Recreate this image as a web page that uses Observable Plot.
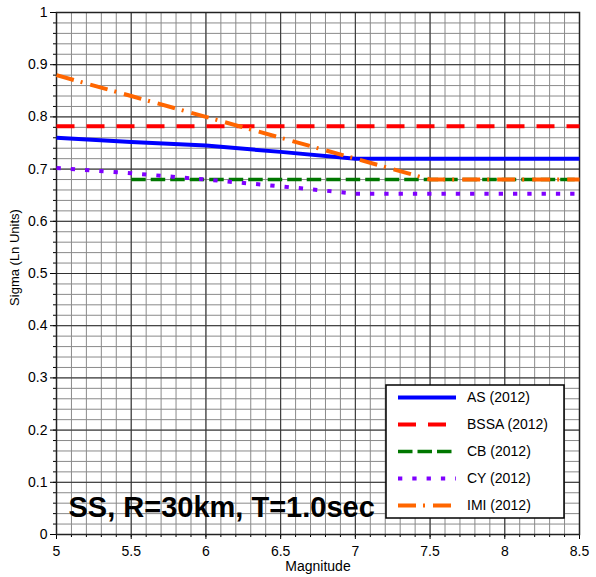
<!DOCTYPE html>
<html><head><meta charset="utf-8">
<script src="https://cdn.jsdelivr.net/npm/d3@7"></script>
<script src="https://cdn.jsdelivr.net/npm/@observablehq/plot@0.6"></script>
<style>body{margin:0;background:#fff}</style>
</head><body><div id="chart"></div>
<script>
// ---- data ----
const magnitudes = [5, 5.5, 6, 6.5, 7, 7.5, 8, 8.5];
const sigmaAS   = [0.760, 0.752, 0.745, 0.733, 0.720, 0.720, 0.720, 0.720];
const sigmaBSSA = [0.782, 0.782, 0.782, 0.782, 0.782, 0.782, 0.782, 0.782];
const sigmaCB   = [null, 0.680, 0.680, 0.680, 0.680, 0.680, 0.680, 0.680];
const sigmaCY   = [0.702, 0.692, 0.680, 0.667, 0.653, 0.653, 0.653, 0.653];
const sigmaIMI  = [0.880, 0.840, 0.800, 0.760, 0.720, 0.680, 0.680, 0.680];
const seriesNames = ["AS (2012)", "BSSA (2012)", "CB (2012)", "CY (2012)", "IMI (2012)"];
const seriesValues = [sigmaAS, sigmaBSSA, sigmaCB, sigmaCY, sigmaIMI];
const xMajorTicks = [5, 5.5, 6, 6.5, 7, 7.5, 8, 8.5];
const yMajorTicks = [0, 0.1, 0.2, 0.3, 0.4, 0.5, 0.6, 0.7, 0.8, 0.9, 1];
const xLabel = "Magnitude";
const yLabel = "Sigma (Ln Units)";
const annotation = "SS, R=30km, T=1.0sec";

// ---- styles ----
const seriesColors = ["#0000ff", "#ff0000", "#007700", "#7f00ff", "#ff6600"];
const seriesDash = [null, "18,12", "14.5,5", "4.3,10", "18,7,2,8"];
const seriesWidth = [4, 4, 3.5, 4, 4];

const xMinorTicks = d3.ticks(5, 8.5, 35);
const yMinorTicks = d3.ticks(0, 1, 50);

const seriesData = seriesNames.map((name, i) =>
  magnitudes.map((m, j) => ({series: name, x: m, y: seriesValues[i][j]})));

const font = "'Liberation Sans', Arial, Helvetica, sans-serif";
const fmt = d => String(d);

const plot = Plot.plot({
  width: 596,
  height: 577,
  marginLeft: 56,
  marginRight: 17,
  marginTop: 12,
  marginBottom: 43,
  style: {fontFamily: font, fontSize: "14px", background: "white", color: "black"},
  x: {domain: [5, 8.5]},
  y: {domain: [0, 1]},
  marks: [
    Plot.gridX(xMinorTicks, {stroke: "#8a8a8a", strokeOpacity: 1, strokeWidth: 1}),
    Plot.gridY(yMinorTicks, {stroke: "#8a8a8a", strokeOpacity: 1, strokeWidth: 1}),
    Plot.gridX(xMajorTicks, {stroke: "#333", strokeOpacity: 1, strokeWidth: 1}),
    Plot.gridY(yMajorTicks, {stroke: "#333", strokeOpacity: 1, strokeWidth: 1}),
    Plot.axisX(xMinorTicks, {tickSize: 3, tickFormat: () => "", label: null}),
    Plot.axisY(yMinorTicks, {tickSize: 3, tickFormat: () => "", label: null}),
    Plot.axisX(xMajorTicks, {tickSize: 5, tickPadding: 7, fontSize: 14, tickFormat: fmt, label: xLabel, labelAnchor: "center", labelArrow: "none", labelOffset: 36}),
    Plot.axisY(yMajorTicks, {tickSize: 6, tickPadding: 3, fontSize: 14, tickFormat: fmt, label: null}),
    Plot.frame({stroke: "#222", strokeWidth: 1.5}),
    Plot.text([annotation], {frameAnchor: "bottom-left", textAnchor: "start", lineAnchor: "bottom", dx: 12, dy: -18, fontSize: 29, fontWeight: "bold", fill: "black"}),
    ...seriesData.map((d, i) => Plot.line(d, {
      x: "x", y: "y",
      stroke: seriesColors[i],
      strokeWidth: seriesWidth[i],
      strokeDasharray: seriesDash[i],
      strokeLinecap: "butt",
      strokeLinejoin: "round"
    }))
  ]
});

const svg = d3.select(plot);

// ---- y-axis title (rotated, narrow face) ----
svg.append("text")
  .attr("transform", "translate(19,257.5) rotate(-90)")
  .attr("text-anchor", "middle")
  .attr("font-family", "'Liberation Sans Narrow', 'Arial Narrow', " + font)
  .attr("font-size", 13)
  .attr("fill", "black")
  .text(yLabel);

// ---- legend (inside plot, lower right) ----
const lg = svg.append("g").attr("font-family", font).attr("font-size", 14).attr("text-anchor", "start");
lg.append("rect").attr("x", 386).attr("y", 385).attr("width", 178).attr("height", 133)
  .attr("fill", "white").attr("stroke", "black").attr("stroke-width", 1.5);
seriesNames.forEach((name, i) => {
  const cy = 397.5 + i * 27;
  lg.append("line").attr("x1", 398).attr("x2", 456).attr("y1", cy).attr("y2", cy)
    .attr("stroke", seriesColors[i]).attr("stroke-width", seriesWidth[i])
    .attr("stroke-dasharray", seriesDash[i]).attr("stroke-linecap", "butt");
  lg.append("text").attr("x", 467).attr("y", cy).attr("dy", "0.35em")
    .attr("text-anchor", "start").attr("fill", "black").text(name);
});

document.getElementById("chart").append(plot);
</script>
</body></html>
